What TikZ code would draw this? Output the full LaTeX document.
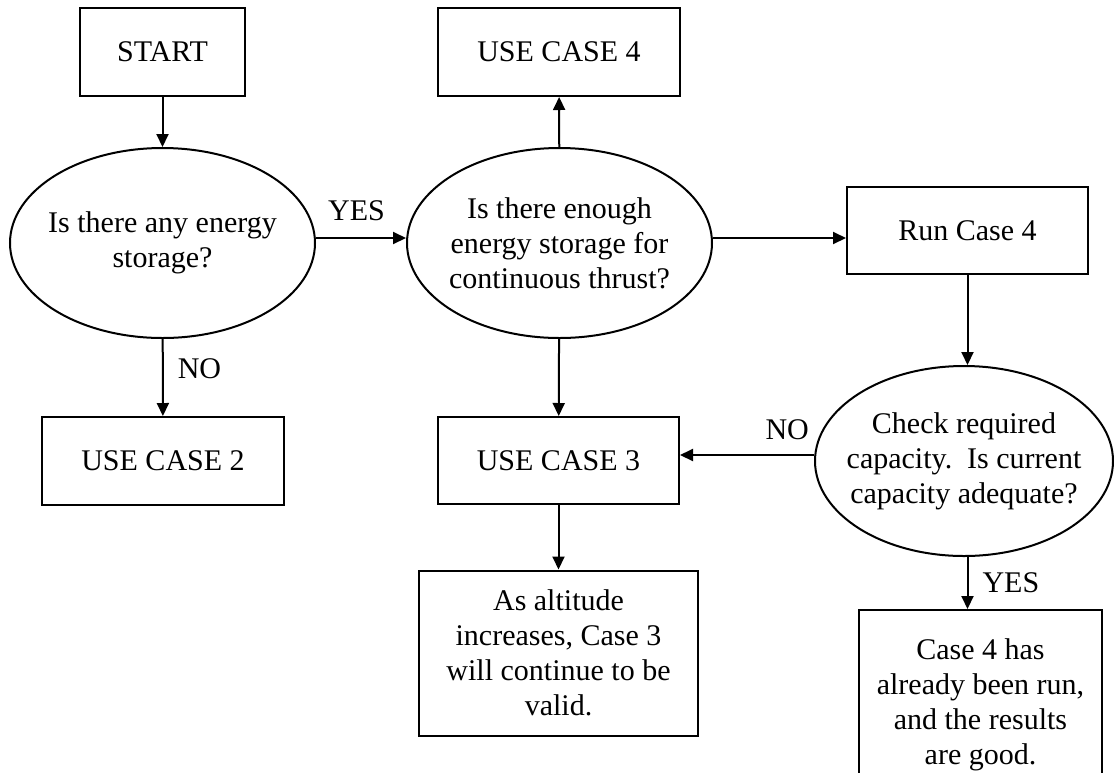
\documentclass[tikz,border=0pt]{standalone}
\usepackage{fontspec}
\setmainfont{Liberation Serif}
\usetikzlibrary{positioning,arrows.meta,shapes.geometric}

\begin{document}
\begin{tikzpicture}[x=0.5pt, y=-0.5pt, line width=1pt, >={Triangle[length=6.5pt,width=6pt]},
      font=\fontsize{15}{17.5}\selectfont,
      stepbox/.style={draw, align=center, inner sep=0pt},
      query/.style={draw, ellipse, align=center, inner xsep=-8pt, inner ysep=0pt, minimum width=152.5pt, minimum height=95pt},
      tag/.style={inner sep=2pt}]
    \clip (0,0) rectangle (1114,772);
    % ---- left column
    \node[stepbox, minimum width=82.5pt, minimum height=44pt] (start) at (162.5,52) {START};
    \node[query] (any) at (162.5,243) {Is there any energy\\storage?};
    \node[stepbox, minimum width=121pt, minimum height=44pt] (case2) at (163,461) {USE CASE 2};
    \draw[->] (start) -- (any);
    \draw[->] (any) -- node[tag, right=5pt, pos=0.38] {NO} (case2);
    % ---- middle column
    \node[stepbox, minimum width=121pt, minimum height=44pt] (case4) at (559,52) {USE CASE 4};
    \node[query] (enough) at (559.5,243) {Is there enough\\energy storage for\\continuous thrust?};
    \node[stepbox, minimum width=120.5pt, minimum height=43.5pt] (case3) at (558.5,460.5) {USE CASE 3};
    \node[stepbox, minimum width=139.5pt, minimum height=82.5pt] (valid) at (558.5,653) {As altitude\\increases, Case 3\\will continue to be\\valid.};
    \draw[->] (any.east |- 0,238) -- node[tag, above=6pt, pos=0.45] {YES} (enough.west |- 0,238);
    \draw[->] (enough) -- (case4);
    \draw[->] (enough) -- (case3);
    \draw[->] (case3) -- (valid);
    % ---- right column
    \node[stepbox, minimum width=120.5pt, minimum height=43.5pt] (run4) at (967.5,230.5) {Run Case 4};
    \node[query, minimum width=149pt] (check) at (964,461) {Check required\\capacity.\ \ Is current\\capacity adequate?};
    \node[stepbox, anchor=north, minimum width=121.5pt, minimum height=95pt] (done) at (980.5,609) {Case 4 has\\already been run,\\and the results\\are good.};
    \draw[->] (enough.east |- 0,238) -- (run4.west |- 0,238);
    \draw[->] (run4.south) -- (run4.south |- check.north);
    \draw[->] (check.west |- 0,455) -- node[tag, above=5pt, pos=0.2] {NO} (case3.east |- 0,455);
    \draw[->] (check.south -| run4.south) -- node[tag, right=5pt] {YES} (done.north -| run4.south);
\end{tikzpicture}
\end{document}
